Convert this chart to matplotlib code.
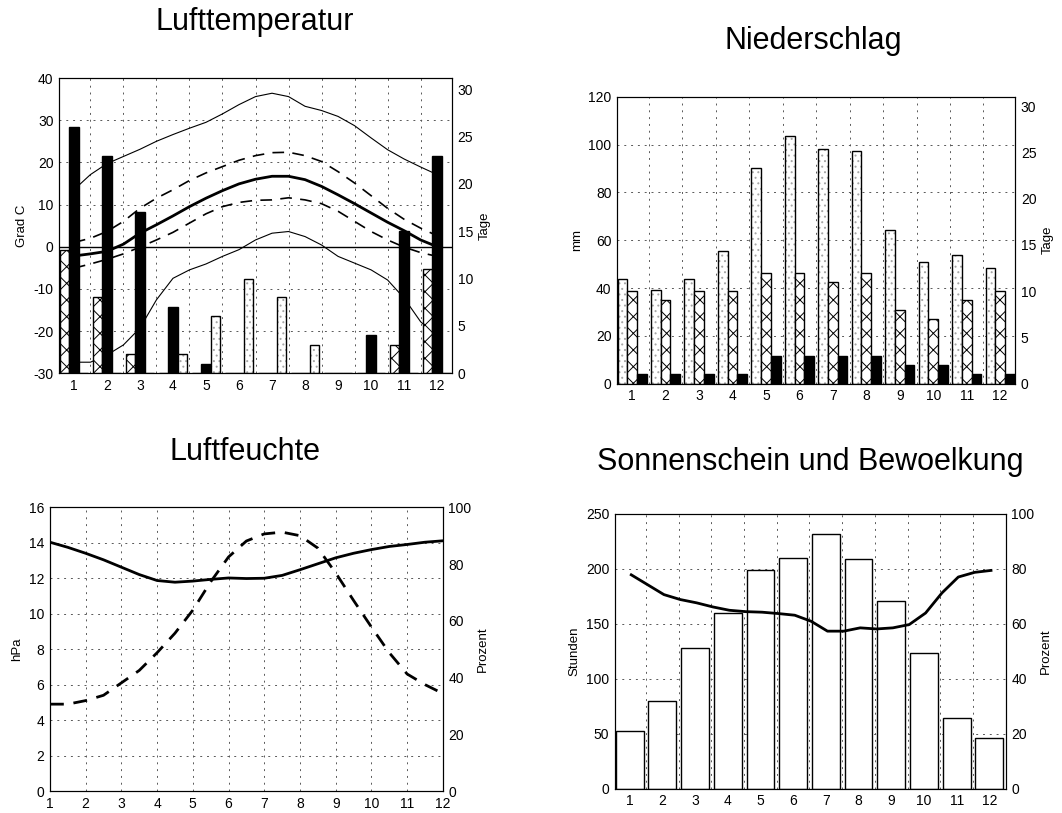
import numpy as np
import matplotlib
matplotlib.use('Agg')
import matplotlib.pyplot as plt

plt.rcParams['font.family'] = ['Liberation Sans', 'DejaVu Sans']
plt.rcParams['hatch.linewidth'] = 0.7
plt.rcParams['font.size'] = 8
plt.rcParams['axes.unicode_minus'] = False

# ---- Daten ----
months = np.arange(1, 13)
half_months = np.arange(1, 12.5, 0.5)

t_abs_max = [13.5, 17.1, 19.7, 21.4, 23.1, 25.0, 26.6, 28.1, 29.5, 31.5, 33.7, 35.6,
             36.4, 35.6, 33.3, 32.3, 30.9, 28.7, 25.8, 23.0, 20.8, 18.9, 17.1]
t_mean_max = [1.0, 2.0, 3.6, 6.0, 9.1, 11.5, 13.5, 15.7, 17.5, 19.0, 20.5, 21.6,
              22.3, 22.4, 21.6, 20.2, 17.8, 15.1, 12.1, 9.1, 6.5, 4.4, 2.6]
t_mean = [-2.2, -1.7, -1.1, 0.6, 3.2, 5.2, 7.3, 9.5, 11.5, 13.3, 14.9, 16.0,
          16.7, 16.7, 15.9, 14.3, 12.3, 10.2, 8.0, 5.8, 3.8, 1.6, 0.0]
t_mean_min = [-5.1, -4.1, -3.0, -1.7, -0.1, 1.6, 3.4, 5.6, 7.8, 9.5, 10.5, 11.0,
              11.1, 11.6, 11.1, 10.2, 8.4, 6.0, 3.6, 1.6, -0.1, -1.4, -2.3]
t_abs_min = [-27.4, -27.4, -25.7, -23.3, -19.3, -12.6, -7.5, -5.5, -4.1, -2.3, -0.7, 1.6,
             3.2, 3.6, 2.4, 0.4, -2.3, -3.9, -5.5, -7.9, -12.2, -17.8, -21.3]

# Tage
tage_eis = [13, 8, 2, 0, 0, 0, 0, 0, 0, 0, 3, 11]
tage_frost = [26, 23, 17, 7, 1, 0, 0, 0, 0, 4, 15, 23]
tage_sommer = [0, 0, 0, 2, 6, 10, 8, 3, 0, 0, 0, 0]

# Niederschlag
nieder_mm = [44, 39, 43.6, 55.6, 90, 103.6, 98.2, 97.2, 64.3, 50.8, 53.9, 48.6]
nieder_tage = [10, 9, 10, 10, 12, 12, 11, 12, 8, 7, 9, 10]
nieder_tage_stark = [1, 1, 1, 1, 3, 3, 3, 3, 2, 2, 1, 1]

# Luftfeuchte
dampfdruck = [4.9, 4.9, 5.1, 5.4, 6.1, 6.8, 7.8, 8.9, 10.2, 11.8, 13.2, 14.1,
              14.5, 14.6, 14.4, 13.7, 12.3, 10.75, 9.25, 7.8, 6.6, 6.0, 5.5]
rel_feuchte = [87.7, 85.9, 83.8, 81.5, 78.9, 76.3, 74.2, 73.6, 74.0, 74.6, 75.1, 74.9,
               75.0, 76.0, 78.0, 80.1, 82.2, 83.8, 85.1, 86.2, 86.9, 87.7, 88.2]

# Sonnenschein und Bewoelkung
sonne_std = [52, 80, 128, 160, 199, 210, 232, 209, 171, 123, 64, 46]
bewoelkung = [77.8, 74.2, 70.6, 68.8, 67.6, 66.1, 64.9, 64.4, 64.2, 63.7, 63.1, 60.9,
              57.3, 57.3, 58.5, 58.1, 58.5, 59.7, 63.9, 71.2, 77.0, 78.7, 79.4]

grid_style = dict(color='0.35', linestyle=(0, (2, 5)), linewidth=0.7)
hatch_x = 'xx'
title_size = 22
label_size = 9.5


def style_axes(ax, ax2):
    ax.tick_params(length=0, pad=4, labelsize=10)
    ax2.tick_params(length=0, pad=4, labelsize=10)


def stipple_bar(ax, x, h, w):
    ax.bar(x, h, w, color='white', edgecolor='0.65', hatch='...', linewidth=0)
    ax.bar(x, h, w, fill=False, edgecolor='black', linewidth=1.0)


fig = plt.figure(figsize=(10.62, 8.13), dpi=100)

# ---- Lufttemperatur ----
ax = fig.add_axes([0.0556, 0.541, 0.370, 0.363])
ax.plot(half_months, t_abs_max, color='black', lw=0.8)
ax.plot(half_months, t_mean_max, color='black', lw=1.2, linestyle=(0, (7, 5)))
ax.plot(half_months, t_mean, color='black', lw=2.0)
ax.plot(half_months, t_mean_min, color='black', lw=1.2, linestyle=(0, (7, 5)))
ax.plot(half_months, t_abs_min, color='black', lw=0.8)
ax.axhline(0, color='black', lw=1.0)
ax.set_xlim(0.55, 12.45)
ax.set_ylim(-30, 40)
ax.set_yticks(np.arange(-30, 41, 10))
ax.set_xticks(months)
ax.set_xticks(months[:-1] + 0.5, minor=True)
ax.tick_params(which='minor', length=0)
ax.grid(True, which='minor', axis='x', **grid_style)
ax.grid(True, which='major', axis='y', **grid_style)
ax.set_ylabel('Grad C', fontsize=label_size)

ax2 = ax.twinx()
w = 0.29
ax2.bar(months - w, tage_eis, w, color='white', edgecolor='black', hatch=hatch_x, lw=1.0)
ax2.bar(months, tage_frost, w, color='black', edgecolor='black')
stipple_bar(ax2, months + w, tage_sommer, w)
ax2.set_ylim(0, 31.2)
ax2.set_yticks(np.arange(0, 31, 5))
ax2.set_ylabel('Tage', fontsize=label_size)
style_axes(ax, ax2)
fig.text(0.240, 1 - 22 / 813, 'Lufttemperatur', fontsize=title_size, ha='center', va='center')

# ---- Niederschlag ----
ax = fig.add_axes([0.581, 0.528, 0.375, 0.353])
stipple_bar(ax, months - w, nieder_mm, w)
ax.set_xlim(0.55, 12.45)
ax.set_ylim(0, 120)
ax.set_yticks(np.arange(0, 121, 20))
ax.set_xticks(months)
ax.set_xticks(months[:-1] + 0.5, minor=True)
ax.tick_params(which='minor', length=0)
ax.grid(True, which='minor', axis='x', **grid_style)
ax.grid(True, which='major', axis='y', **grid_style)
ax.set_axisbelow(True)
ax.set_ylabel('mm', fontsize=label_size)

ax2 = ax.twinx()
ax2.bar(months, nieder_tage, w, color='white', edgecolor='black', hatch=hatch_x, lw=1.0)
ax2.bar(months + w, nieder_tage_stark, w, color='black', edgecolor='black')
ax2.set_ylim(0, 31)
ax2.set_yticks(np.arange(0, 31, 5))
ax2.set_ylabel('Tage', fontsize=label_size)
style_axes(ax, ax2)
fig.text(0.766, 1 - 41 / 813, 'Niederschlag', fontsize=title_size, ha='center', va='center')

# ---- Luftfeuchte ----
ax = fig.add_axes([0.047, 0.027, 0.370, 0.349])
ax.plot(half_months, dampfdruck, color='black', lw=2.0, linestyle=(0, (5, 3.5)))
ax.set_xlim(1, 12)
ax.set_ylim(0, 16)
ax.set_yticks(np.arange(0, 17, 2))
ax.set_xticks(months)
ax.grid(True, **grid_style)
ax.set_ylabel('hPa', fontsize=label_size)

ax2 = ax.twinx()
ax2.plot(half_months, rel_feuchte, color='black', lw=2.0)
ax2.set_ylim(0, 100)
ax2.set_yticks(np.arange(0, 101, 20))
ax2.set_ylabel('Prozent', fontsize=label_size)
style_axes(ax, ax2)
fig.text(0.231, 1 - 452 / 813, 'Luftfeuchte', fontsize=title_size, ha='center', va='center')

# ---- Sonnenschein und Bewoelkung ----
ax = fig.add_axes([0.579, 0.030, 0.368, 0.338])
ax.bar(months, sonne_std, 0.85, color='white', edgecolor='black', lw=1.0)
ax.set_xlim(0.55, 12.5)
ax.set_ylim(0, 250)
ax.set_yticks(np.arange(0, 251, 50))
ax.set_xticks(months)
ax.set_xticks(months[:-1] + 0.5, minor=True)
ax.tick_params(which='minor', length=0)
ax.grid(True, which='minor', axis='x', **grid_style)
ax.grid(True, which='major', axis='y', **grid_style)
ax.set_axisbelow(True)
ax.set_ylabel('Stunden', fontsize=label_size)

ax2 = ax.twinx()
ax2.plot(half_months + 0.05, bewoelkung, color='black', lw=2.0)
ax2.set_ylim(0, 100)
ax2.set_yticks(np.arange(0, 101, 20))
ax2.set_ylabel('Prozent', fontsize=label_size)
style_axes(ax, ax2)
fig.text(0.763, 1 - 462 / 813, 'Sonnenschein und Bewoelkung', fontsize=title_size, ha='center', va='center')

fig.savefig('out.png', dpi=100)
